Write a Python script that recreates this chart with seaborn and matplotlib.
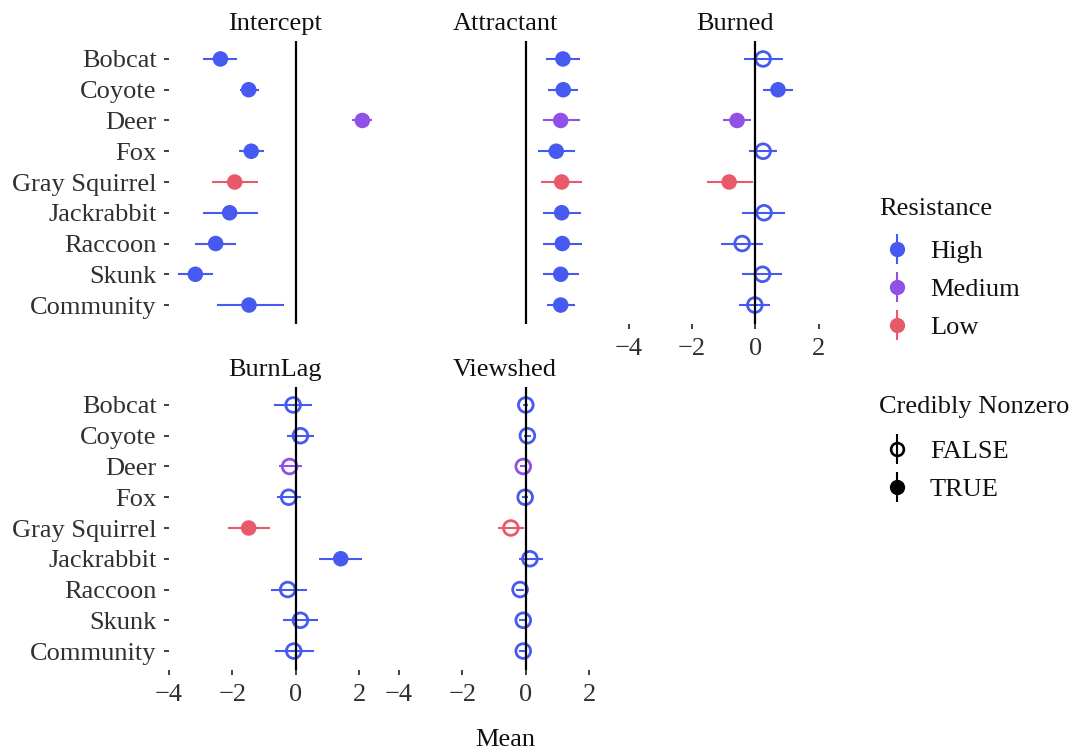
import numpy as np
import pandas as pd
import seaborn as sns
import matplotlib
matplotlib.use("Agg")
from matplotlib import pyplot as plt
from matplotlib.lines import Line2D

# data
species = ["Bobcat", "Coyote", "Deer", "Fox", "Gray Squirrel", "Jackrabbit",
           "Raccoon", "Skunk", "Community"]
resistance = ["High", "High", "Medium", "High", "Low", "High", "High", "High", "High"]
terms = ["Intercept", "Attractant", "Burned", "BurnLag", "Viewshed"]

intercept_mean = [-2.38, -1.49, 2.09, -1.41, -1.93, -2.09, -2.53, -3.17, -1.48]
intercept_lo = [-2.92, -1.77, 1.78, -1.79, -2.63, -2.93, -3.18, -3.71, -2.50]
intercept_hi = [-1.85, -1.15, 2.41, -1.02, -1.21, -1.20, -1.90, -2.60, -0.38]
intercept_nz = [True] * 9

attractant_mean = [1.17, 1.18, 1.10, 0.96, 1.13, 1.13, 1.15, 1.10, 1.10]
attractant_lo = [0.63, 0.70, 0.55, 0.37, 0.48, 0.53, 0.55, 0.53, 0.68]
attractant_hi = [1.71, 1.64, 1.71, 1.56, 1.78, 1.73, 1.76, 1.68, 1.55]
attractant_nz = [True] * 9

burned_mean = [0.24, 0.71, -0.58, 0.24, -0.83, 0.27, -0.42, 0.22, -0.02]
burned_lo = [-0.37, 0.24, -1.02, -0.20, -1.54, -0.42, -1.09, -0.42, -0.51]
burned_hi = [0.88, 1.19, -0.15, 0.68, -0.07, 0.94, 0.25, 0.85, 0.47]
burned_nz = [False, True, True, False, True, False, False, False, False]

burnlag_mean = [-0.09, 0.14, -0.20, -0.23, -1.49, 1.41, -0.26, 0.14, -0.07]
burnlag_lo = [-0.68, -0.28, -0.52, -0.60, -2.15, 0.71, -0.79, -0.42, -0.67]
burnlag_hi = [0.50, 0.56, 0.19, 0.17, -0.83, 2.09, 0.35, 0.69, 0.56]
burnlag_nz = [False, False, False, False, True, True, False, False, False]

viewshed_mean = [0.00, 0.05, -0.08, -0.02, -0.47, 0.13, -0.18, -0.08, -0.08]
viewshed_lo = [-0.08, -0.05, -0.18, -0.12, -0.87, -0.21, -0.30, -0.20, -0.20]
viewshed_hi = [0.08, 0.15, 0.03, 0.08, -0.05, 0.53, -0.05, 0.05, 0.04]
viewshed_nz = [False] * 9

x_ticks = [-4, -2, 0, 2]
res_levels = ["High", "Medium", "Low"]
pal = {"High": "#4659F0", "Medium": "#9150E6", "Low": "#E85A6A"}

# long table
est = {
    "Intercept": (intercept_mean, intercept_lo, intercept_hi, intercept_nz),
    "Attractant": (attractant_mean, attractant_lo, attractant_hi, attractant_nz),
    "Burned": (burned_mean, burned_lo, burned_hi, burned_nz),
    "BurnLag": (burnlag_mean, burnlag_lo, burnlag_hi, burnlag_nz),
    "Viewshed": (viewshed_mean, viewshed_lo, viewshed_hi, viewshed_nz),
}
frames = []
for t in terms:
    m, lo, hi, nz = est[t]
    frames.append(pd.DataFrame({"term": t, "species": species, "y": range(len(species)),
                                "Resistance": resistance, "mean": m, "lo": lo, "hi": hi,
                                "nonzero": nz}))
df = pd.concat(frames, ignore_index=True)

# ggplot style 5% expansion
span = df.hi.max() - df.lo.min()
xlim = (df.lo.min() - 0.05 * span, df.hi.max() + 0.05 * span)

sns.set_theme(style="white")
plt.rcParams['font.family'] = ['Liberation Serif', 'DejaVu Serif']
FS = 19
TXT = "#111111"
TICK_TXT = "#303030"

W, H = 1069, 750
fig = plt.figure(figsize=(W / 100, H / 100), dpi=100)


def px_axes(left, top, width, height):
    return fig.add_axes([left / W, 1 - (top + height) / H, width / W, height / H])


col_left = [168.5, 398.3, 628.0]
row_top = [40.5, 386.5]
pw, ph = 213.7, 283.0

for i, term in enumerate(terms):
    r, c = divmod(i, 3)
    ax = px_axes(col_left[c], row_top[r], pw, ph)
    sub = df[df.term == term]

    ax.hlines(sub.y, sub.lo, sub.hi, colors=sub.Resistance.map(pal).tolist(),
              lw=1.5, zorder=1)

    filled = sub[sub.nonzero]
    if len(filled):
        sns.scatterplot(data=filled, x="mean", y="y", hue="Resistance", palette=pal,
                        s=125, linewidth=0, legend=False, ax=ax, zorder=2)
    hollow = sub[~sub.nonzero]
    if len(hollow):
        sns.scatterplot(data=hollow, x="mean", y="y", hue="Resistance", palette=pal,
                        s=112, legend=False, ax=ax, zorder=2)
        pts = ax.collections[-1]
        fc = pts.get_facecolors()
        pts.set_edgecolors(fc)
        pts.set_facecolors("none")
        pts.set_linewidths(2.0)

    ax.axvline(0, color="black", lw=1.6, zorder=3)

    ax.set_xlim(*xlim)
    ax.set_ylim(len(species) - 0.4, -0.6)
    ax.set_xlabel("")
    ax.set_ylabel("")
    for s in ax.spines.values():
        s.set_visible(False)
    ax.tick_params(axis="both", left=True, bottom=True, length=3.6, width=1.3,
                   color="#333333", labelsize=FS, labelcolor=TICK_TXT)
    ax.tick_params(axis="x", pad=6.5)
    ax.tick_params(axis="y", pad=5)

    if c == 0:
        ax.set_yticks(range(len(species)))
        ax.set_yticklabels(species)
    else:
        ax.set_yticks([])
    if i >= 2:
        ax.set_xticks(x_ticks)
        ax.set_xticklabels([str(v).replace("-", "\u2212") for v in x_ticks])
    else:
        ax.set_xticks([])

    fig.text((col_left[c] + pw / 2) / W, 1 - (row_top[r] - 16.5) / H, term,
             ha="center", va="center", fontsize=FS, color=TXT)

fig.text(505 / W, 1 - 740 / H, "Mean", ha="center", va="center", fontsize=FS, color=TXT)

# legends (titles drawn as text so the title gap can match)
res_handles = [(Line2D([], [], marker="|", ms=22, mew=1.5, color=pal[k], ls="none"),
                Line2D([], [], marker="o", ms=11, mew=0, color=pal[k], ls="none"))
               for k in res_levels]
nz_handles = [(Line2D([], [], marker="|", ms=22, mew=1.5, color="black", ls="none"),
               Line2D([], [], marker="o", ms=9.2, mew=1.9, mfc="none", mec="black", ls="none")),
              (Line2D([], [], marker="|", ms=22, mew=1.5, color="black", ls="none"),
               Line2D([], [], marker="o", ms=11, mew=0, color="black", ls="none"))]

leg_kw = dict(loc="upper left", frameon=False, fontsize=FS,
              handlelength=1.36, handletextpad=0.57,
              labelspacing=0.54, borderpad=0, borderaxespad=0)
fig.text(879 / W, 1 - 209 / H, "Resistance", ha="left", va="center", fontsize=FS, color=TXT)
leg1 = fig.legend(res_handles, res_levels, bbox_to_anchor=(879 / W, 1 - 240 / H), **leg_kw)
fig.text(879 / W, 1 - 407 / H, "Credibly Nonzero", ha="left", va="center", fontsize=FS,
         color=TXT)
leg2 = fig.legend(nz_handles, ["FALSE", "TRUE"], bbox_to_anchor=(879 / W, 1 - 440 / H),
                  **leg_kw)
for lg in (leg1, leg2):
    for t in lg.get_texts():
        t.set_color(TXT)

fig.savefig("out.png", dpi=100)
